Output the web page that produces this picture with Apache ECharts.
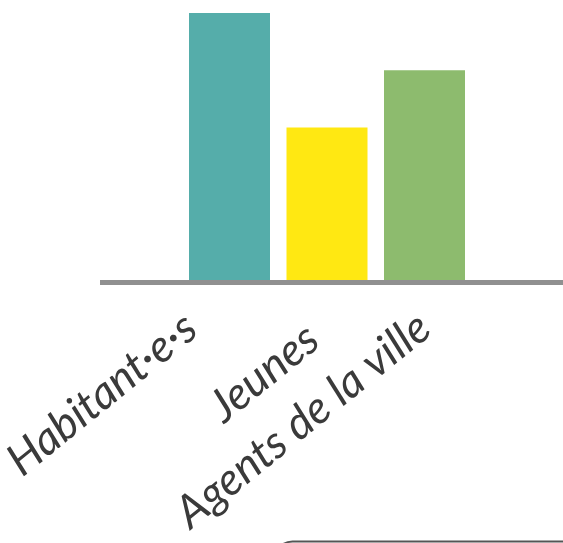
<!DOCTYPE html>
<html><head><meta charset="utf-8">
<script src="https://cdn.jsdelivr.net/npm/echarts@6/dist/echarts.min.js"></script>
<style>html,body{margin:0;padding:0;background:#fff}#c{width:563px;height:543px}</style>
</head><body><div id="c"></div>
<script>
const categories = ['Habitant·e·s', 'Jeunes', 'Agents de la ville'];
const values = [14, 8, 11];
const colors = ['#55ADAA', '#FFE812', '#8DBB6E'];

const labelFont = {color: '#3a3a3a', fontSize: 45, fontFamily: 'Lato', fontStyle: 'italic'};
const richKeys = ['h', 'j', 'a'];

const chart = echarts.init(document.getElementById('c'), null, {renderer: 'canvas'});
chart.setOption({
  animation: false,
  backgroundColor: '#ffffff',
  grid: [
    {left: 100, right: 0, top: 13, height: 269.5, outerBoundsMode: 'none', containLabel: false},
    {left: 180.75, width: 292.5, top: 13, height: 267, outerBoundsMode: 'none', containLabel: false}
  ],
  xAxis: [
    {gridIndex: 0, type: 'category', data: [''], axisLine: {lineStyle: {color: '#909090', width: 5, cap: 'butt'}},
     axisTick: {show: false}, axisLabel: {show: false}},
    {gridIndex: 1, type: 'category', data: categories, axisLine: {show: false}, axisTick: {show: false},
     axisLabel: Object.assign({interval: 0, rotate: 39, margin: 42,
       formatter: (v, i) => '{' + richKeys[i] + '|' + v + '}',
       rich: {
         h: Object.assign({padding: [0, 30, 48, 0]}, labelFont),
         j: Object.assign({padding: [0, 18, 0, 0]}, labelFont),
         a: Object.assign({}, labelFont)
       }}, labelFont)}
  ],
  yAxis: [
    {gridIndex: 0, type: 'value', show: false},
    {gridIndex: 1, type: 'value', min: 0, max: 14, show: false}
  ],
  series: [{
    type: 'bar', xAxisIndex: 1, yAxisIndex: 1, barWidth: 81,
    data: values.map((v, i) => ({value: v, itemStyle: {color: colors[i]}}))
  }],
  graphic: [{
    type: 'rect', left: 272, top: 539, shape: {width: 320, height: 40, r: 18},
    style: {fill: 'none', stroke: '#555555', lineWidth: 2}
  }]
});
</script></body></html>
